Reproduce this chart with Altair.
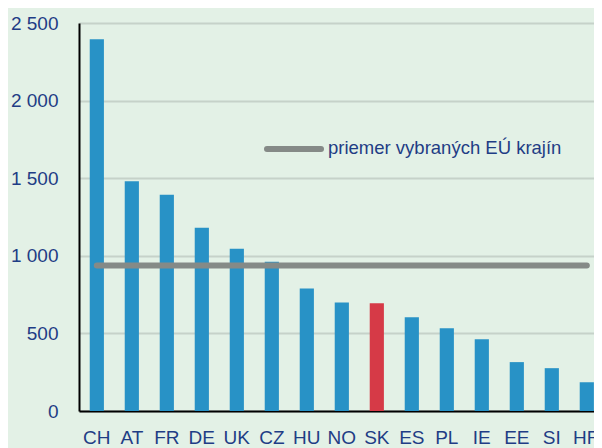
import altair as alt
import pandas as pd

countries = ["CH", "AT", "FR", "DE", "UK", "CZ", "HU", "NO", "SK", "ES", "PL", "IE", "EE", "SI", "HR"]
values = [2395, 1480, 1393, 1181, 1046, 962, 789, 699, 694, 604, 533, 463, 315, 276, 186]
highlight = ["SK"]
average_value = 938
legend_label = "priemer vybraných EÚ krajín"
y_ticks = [0, 500, 1000, 1500, 2000, 2500]

df = pd.DataFrame({
    "country": countries,
    "value": values,
    "hl": ["yes" if c in highlight else "no" for c in countries],
    "avg": [average_value] * len(countries),
})

TEXT = "#1f3d85"
FONT_AX = "Liberation Sans"
FONT_LEG = "Liberation Sans"

xscale = alt.Scale(domain=countries, paddingInner=0.595, paddingOuter=0.155, align=0.99)
yscale = alt.Scale(domain=[0, 2500], nice=False)

x_enc = alt.X("country:N", scale=xscale, sort=countries,
              axis=alt.Axis(title=None, labelAngle=0, ticks=False, domain=True,
                            domainColor="#000000", domainWidth=2,
                            labelFont=FONT_AX, labelFontSize=19, labelColor=TEXT,
                            labelPadding=17, grid=False, labelBound=False,
                            labelOverlap=False))

bars = alt.Chart(df).mark_bar(strokeWidth=0).encode(
    x=x_enc,
    y=alt.Y("value:Q", scale=yscale,
            axis=alt.Axis(title=None, values=y_ticks, ticks=False, domain=True,
                          domainColor="#000000", domainWidth=2,
                          grid=True, gridColor="#c6d2c9", gridWidth=2,
                          labelFont=FONT_AX, labelFontSize=19, labelColor=TEXT,
                          labelPadding=21,
                          labelExpr="replace(format(datum.value, ',d'), ',', ' ')")),
    color=alt.Color("hl:N", scale=alt.Scale(domain=["no", "yes"], range=["#2892c6", "#d63a47"]), legend=None),
)

avg_line = alt.Chart(df).mark_line(color="#858a87", strokeWidth=6, strokeCap="round").encode(
    x=alt.X("country:N", scale=xscale, sort=countries),
    y=alt.Y("avg:Q", scale=yscale),
)

leg_line = alt.Chart(pd.DataFrame({"k": [0]})).mark_rule(
    color="#858a87", strokeWidth=6, strokeCap="round"
).encode(x=alt.value(188), x2=alt.value(242), y=alt.value(126))

leg_text = alt.Chart(pd.DataFrame({"t": [legend_label]})).mark_text(
    align="left", baseline="middle", font=FONT_LEG, fontSize=18.5, color=TEXT
).encode(x=alt.value(249), y=alt.value(125), text="t:N")

chart = alt.layer(bars, avg_line, leg_line, leg_text).properties(
    width=515, height=388,
    autosize=alt.AutoSizeParams(type="none"),
    padding={"left": 71, "top": 15, "right": 0, "bottom": 37},
    background="#e3f1e6",
).configure_view(strokeWidth=0)

chart.save("out.html", embed_options={"renderer": "svg", "actions": False})
